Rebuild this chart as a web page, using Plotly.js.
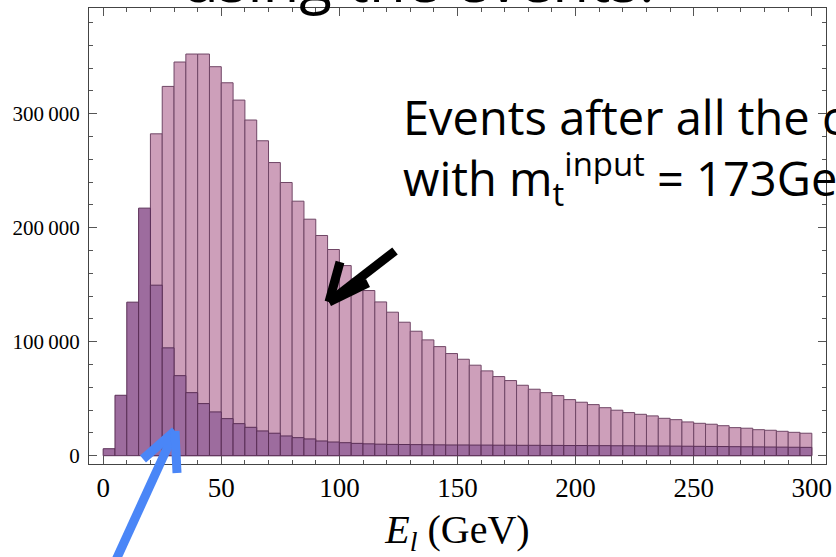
<!DOCTYPE html>
<html>
<head>
<meta charset="utf-8">
<script src="https://cdn.plot.ly/plotly-3.0.1.min.js"></script>
<style>html,body{margin:0;padding:0;background:#fff;overflow:hidden}#chart{width:836px;height:557px}</style>
</head>
<body>
<div id="chart"></div>
<script>
// Bin centres of the lepton energy histogram (GeV), 5 GeV bins
const energyBins = [2.5,7.5,12.5,17.5,22.5,27.5,32.5,37.5,42.5,47.5,
  52.5,57.5,62.5,67.5,72.5,77.5,82.5,87.5,92.5,97.5,
  102.5,107.5,112.5,117.5,122.5,127.5,132.5,137.5,142.5,147.5,
  152.5,157.5,162.5,167.5,172.5,177.5,182.5,187.5,192.5,197.5,
  202.5,207.5,212.5,217.5,222.5,227.5,232.5,237.5,242.5,247.5,
  252.5,257.5,262.5,267.5,272.5,277.5,282.5,287.5,292.5,297.5];

// Events after all the cuts, m_t^input = 173 GeV (light histogram)
const eventsAfterCuts = [null,null,null,null,282400,324000,345400,352400,352400,341300,
  327200,312000,294500,276300,257200,239700,223300,207500,193200,180900,
  166800,155100,144900,134900,125900,117100,109200,101600,95700,89600,
  84600,79400,74400,69400,65900,61800,58300,55300,52700,49200,
  46900,44800,42100,39900,37800,36300,34900,32800,31600,29600,
  28400,27600,26300,24600,24100,22800,22300,21400,20500,19700];

// Second (dark) histogram
const eventsDark = [6100,53000,134700,217200,149600,94600,70200,55300,45700,38400,
  32500,28100,24900,21700,19700,17300,15800,14700,12900,12000,
  11400,10800,10400,10100,9900,9800,9700,9600,9500,9400,
  9400,9300,9300,9200,9200,9100,9100,9000,9000,8900,
  8900,8800,8800,8700,8700,8600,8500,8500,8400,8300,
  8200,8100,8000,7900,7800,7700,7600,7500,7400,7300];

const yTickVals = [0,100000,200000,300000];
const yTickText = ['0','100\u2009000','200\u2009000','300\u2009000'];
const xTickVals = [0,50,100,150,200,250,300];
const xTickText = ['0','50','100','150','200','250','300'];

// plot-area geometry in pixels (for overlay drawings)
const L = 89, R = 826, T = 8, B = 464;
const px = x => (x - L) / (R - L);
const py = y => (B - y) / (B - T);

const serif = 'Liberation Serif, Times New Roman, serif';
const sans = 'Open Sans, Noto Sans, sans-serif';

const traces = [
  {type:'bar', x: energyBins, y: eventsAfterCuts, width: 5,
   marker:{color:'#cd9fba', line:{color:'#704666', width:1}}, hoverinfo:'x+y'},
  {type:'bar', x: energyBins, y: eventsDark, width: 5,
   marker:{color:'#9d6c9e', line:{color:'#5a2e56', width:1}}, hoverinfo:'x+y'}
];

function seg(x0,y0,x1,y1,color,w){
  return {type:'line', xref:'paper', yref:'paper', x0:px(x0), y0:py(y0), x1:px(x1), y1:py(y1),
          line:{color:color, width:w}, layer:'above'};
}

const layout = {
  width: 836, height: 557,
  margin: {l: L, r: 836 - R, t: T, b: 557 - B, pad: 0},
  paper_bgcolor: '#fff', plot_bgcolor: '#fff',
  barmode: 'overlay', bargap: 0,
  showlegend: false,
  xaxis: {
    range: [-6, 306], tickvals: xTickVals, ticktext: xTickText,
    ticks: 'inside', ticklen: 8, tickcolor: '#555', tickwidth: 1,
    minor: {dtick: 10, tick0: 0, ticks: 'inside', ticklen: 4, tickcolor: '#555', tickwidth: 1},
    showline: true, linecolor: '#444', linewidth: 1, mirror: 'ticks',
    showgrid: false, zeroline: false,
    tickfont: {family: serif, size: 27, color: '#000'},
    ticklabelstandoff: 0,
    title: {text: '<i>E</i><sub><i>l</i></sub> (GeV)', font: {family: serif, size: 40, color: '#000'}, standoff: 13}
  },
  yaxis: {
    range: [-7300, 392800], tickvals: yTickVals, ticktext: yTickText,
    ticks: 'inside', ticklen: 8, tickcolor: '#555', tickwidth: 1,
    minor: {dtick: 20000, tick0: 0, ticks: 'inside', ticklen: 4, tickcolor: '#555', tickwidth: 1},
    showline: true, linecolor: '#444', linewidth: 1, mirror: 'ticks',
    showgrid: false, zeroline: false,
    tickfont: {family: serif, size: 21, color: '#000'},
    ticklabelstandoff: 4
  },
  annotations: [
    {xref:'paper', yref:'paper', x: px(180), y: py(-21), xanchor:'left', yanchor:'middle',
     text:'using the events.', showarrow:false, font:{family:sans, size:60, color:'#000'}},
    {xref:'paper', yref:'paper', x: px(401), y: py(83), xanchor:'left', yanchor:'top', align:'left',
     text:'Events after all the cuts<br>with m<sub>t</sub><sup>input</sup> = 173GeV',
     showarrow:false, font:{family:sans, size:47, color:'#000'}}
  ],
  shapes: [
    seg(395,251,329,302,'#000',9),
    seg(329,302,340,262,'#000',9),
    seg(329,302,368,283,'#000',9),
    seg(116,560,175,431,'#4a86f7',9),
    seg(175,431,143,459,'#4a86f7',9),
    seg(175,431,177,473,'#4a86f7',9)
  ]
};

Plotly.newPlot('chart', traces, layout, {displayModeBar: false, staticPlot: true});
</script>
</body>
</html>
